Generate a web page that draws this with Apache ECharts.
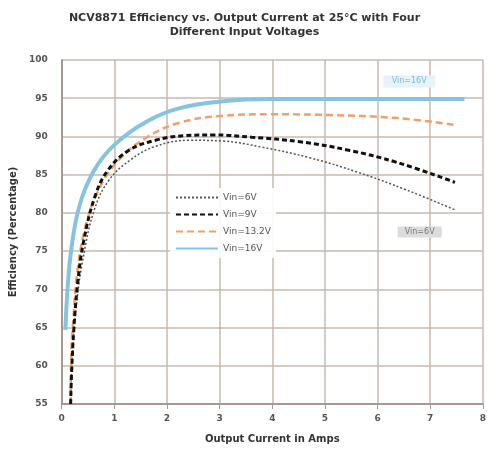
<!DOCTYPE html>
<html><head><meta charset="utf-8">
<script src="https://cdn.jsdelivr.net/npm/echarts@6/dist/echarts.min.js"></script>
<style>html,body{margin:0;padding:0;background:#fff}#c{width:489px;height:459px}</style>
</head><body><div id="c"></div>
<script>
const seriesNames = ['Vin=6V', 'Vin=9V', 'Vin=13.2V', 'Vin=16V'];
const dottedData = [[0.17,55],[0.2,60.7],[0.27,67.3],[0.4,73.8],[0.62,80.4],[0.9,84.3],[1.3,86.9],[1.78,88.7],[2.42,89.5],[3.06,89.4],[3.8,88.6],[4.72,87.2],[5.63,85.3],[6.55,83],[7.47,80.4]];
const dashedData = [[0.17,55],[0.19,59.4],[0.23,64.7],[0.3,70.6],[0.42,76.4],[0.64,82.3],[0.88,85.6],[1.28,88.2],[1.78,89.5],[2.33,90.1],[2.88,90.2],[3.61,89.9],[4.53,89.3],[5.45,88.2],[6.37,86.6],[7.47,84.0]];
const orangeData = [[0.17,55],[0.18,60.7],[0.22,66],[0.3,72.5],[0.46,78.4],[0.7,83],[1.08,86.9],[1.6,89.8],[2.24,91.8],[3.06,92.7],[3.98,92.9],[5.08,92.8],[6.37,92.4],[7.47,91.5]];
const blueData = [[0.07,64.7],[0.11,69.9],[0.18,75.1],[0.34,81.0],[0.62,85.6],[1.0,88.9],[1.6,91.9],[2.24,93.7],[3.06,94.6],[3.98,94.9],[5.08,94.9],[6.37,94.9],[7.65,94.9]];
const xTicks = [0,1,2,3,4,5,6,7,8];
const yTicks = [55,60,65,70,75,80,85,90,95,100];

const gridColor = '#c9b8b1';
const chart = echarts.init(document.getElementById('c'), null, {renderer:'canvas'});
chart.setOption({
  animation:false,
  backgroundColor:'#fff',
  title:{
    text:'NCV8871 Efficiency vs. Output Current at 25°C with Four\nDifferent Input Voltages',
    left:'center', top:6,
    textStyle:{fontFamily:'DejaVu Sans', fontSize:11, fontWeight:'bold', color:'#333', lineHeight:14}
  },
  grid:{left:53, right:2, top:60, bottom:55},
  legend:{
    data:seriesNames, orient:'vertical', left:170, top:188, itemGap:8,
    itemWidth:42, itemHeight:11,
    itemStyle:{opacity:0},
    backgroundColor:'rgba(255,255,255,0.9)',
    textStyle:{fontFamily:'DejaVu Sans', fontSize:9, color:'#555'}
  },
  xAxis:{
    type:'value', min:xTicks[0], max:xTicks[xTicks.length-1], interval:1,
    name:'Output Current in Amps', nameLocation:'middle', nameGap:30,
    nameTextStyle:{fontFamily:'DejaVu Sans', fontSize:10, fontWeight:'bold', color:'#333'},
    axisLine:{lineStyle:{color:'#a89890', width:2}},
    axisTick:{show:true, lineStyle:{color:'#a89890'}},
    axisLabel:{fontFamily:'DejaVu Sans', fontSize:9, fontWeight:'bold', color:'#555', margin:10},
    splitLine:{show:true, lineStyle:{color:gridColor, width:1.5}}
  },
  yAxis:{
    type:'value', min:yTicks[0], max:yTicks[yTicks.length-1], interval:5,
    name:'Efficiency (Percentage)', nameLocation:'middle', nameGap:38,
    nameTextStyle:{fontFamily:'DejaVu Sans', fontSize:10, fontWeight:'bold', color:'#333'},
    axisLine:{show:true, lineStyle:{color:'#a89890', width:2}},
    axisTick:{show:false},
    axisLabel:{fontFamily:'DejaVu Sans', fontSize:9, fontWeight:'bold', color:'#555', margin:14},
    splitLine:{show:true, lineStyle:{color:gridColor, width:1.5}}
  },
  series:[
    {name:seriesNames[0], type:'line', data:dottedData, smooth:0.4, showSymbol:false, symbol:'none',
     lineStyle:{color:'#555', width:1.5, type:[2,2]}, itemStyle:{color:'#555'}, z:4},
    {name:seriesNames[1], type:'line', data:dashedData, smooth:0.4, showSymbol:false, symbol:'none',
     lineStyle:{color:'#111', width:3, type:[5,3]}, itemStyle:{color:'#111'}, z:5},
    {name:seriesNames[2], type:'line', data:orangeData, smooth:0.4, showSymbol:false, symbol:'none',
     lineStyle:{color:'#f0a068', width:2.5, type:[7,4]}, itemStyle:{color:'#f0a068'}, z:3},
    {name:seriesNames[3], type:'line', data:blueData, smooth:0.4, showSymbol:false, symbol:'none',
     lineStyle:{color:'#86c3e0', width:4}, itemStyle:{color:'#86c3e0'}, z:2,
     markPoint:{symbol:'rect', symbolSize:[52,12], itemStyle:{color:'#e6f3fa', opacity:1},
       label:{show:true, formatter:seriesNames[3], color:'#7fb8d8', fontSize:8, fontFamily:'DejaVu Sans'},
       data:[{coord:[6.6,97.2]}]}},
    {name:'lbl', type:'line', data:[], markPoint:{symbol:'rect', symbolSize:[44,11], itemStyle:{color:'#ddd'},
       label:{show:true, formatter:seriesNames[0], color:'#777', fontSize:8, fontFamily:'DejaVu Sans'},
       data:[{coord:[6.8,77.5]}]}}
  ]
});
</script></body></html>
